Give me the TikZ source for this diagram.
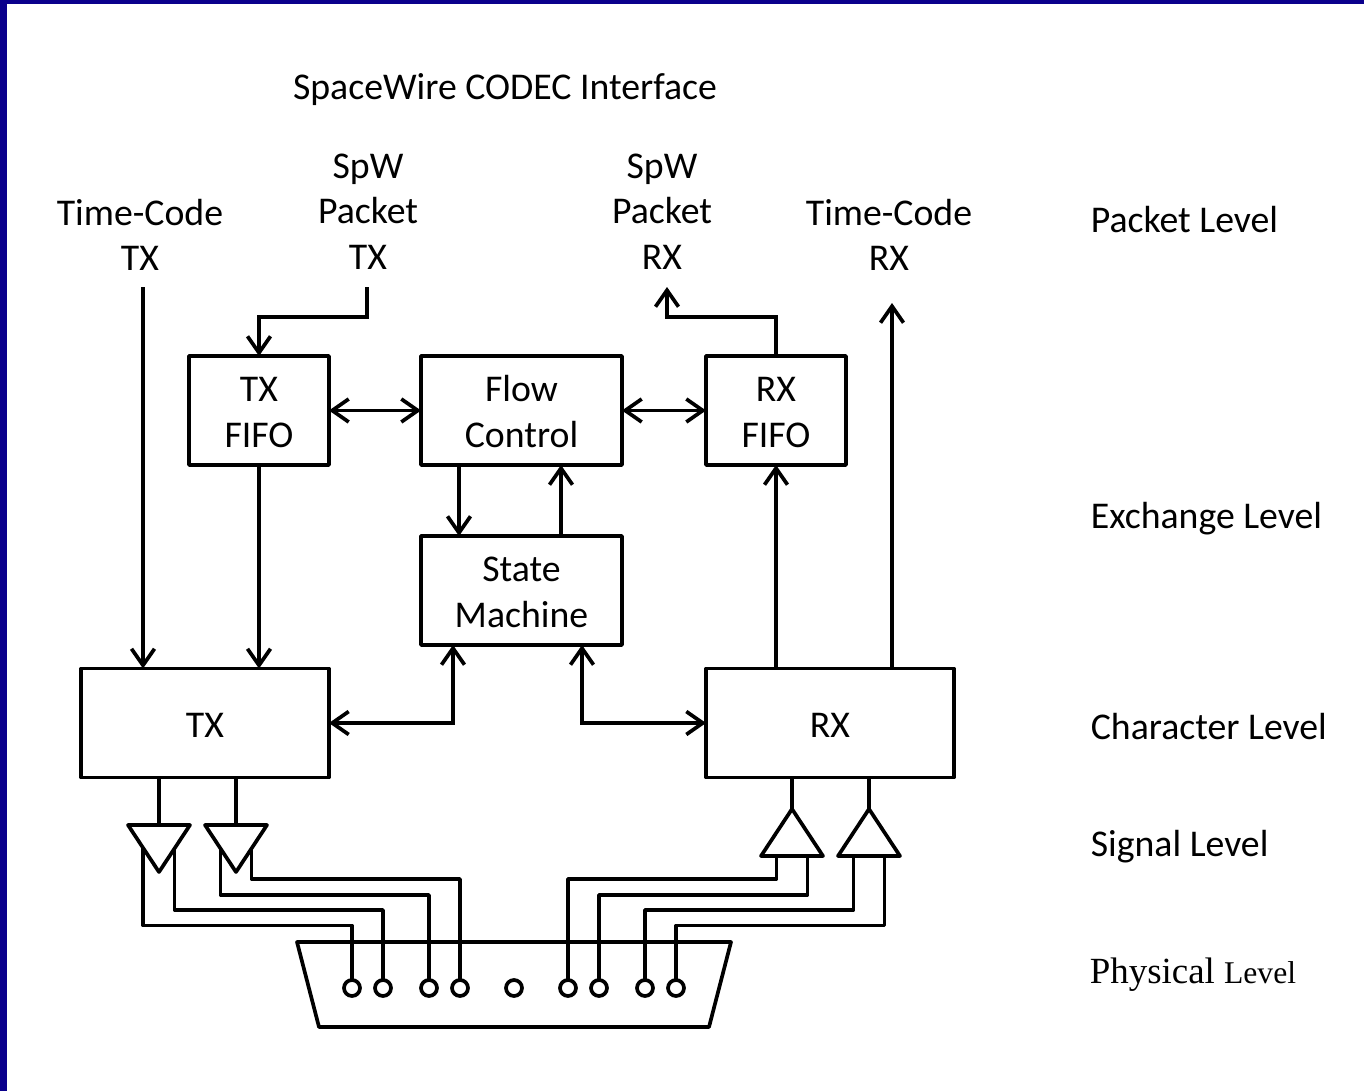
\documentclass[tikz,border=0pt]{standalone}
\usepackage{fontspec}
\setmainfont{Carlito}
\newfontfamily\timesfont{Liberation Serif}
\usetikzlibrary{arrows.meta, shapes.geometric}
\definecolor{frameblue}{RGB}{10,0,140}
\newcommand{\blocktext}[1]{\raisebox{-0.1cm}[\height][\depth]{\begin{tabular}{@{}c@{}}#1\end{tabular}}}
\tikzset{
    block/.style={draw, line width=2.1pt, inner sep=0pt, outer sep=0pt, align=center, line join=round, font=\fontsize{21.5}{26}\selectfont},
    lbl/.style={inner sep=0pt, align=center, font=\fontsize{21.5}{26}\selectfont},
    lvl/.style={lbl, anchor=west},
    pinhole/.style={draw, circle, fill=white, line width=2.1pt, minimum size=0.32cm, inner sep=0pt, outer sep=0pt},
    amp/.style={draw, isosceles triangle, isosceles triangle stretches, minimum height=0.94cm, minimum width=1.24cm, inner sep=0pt, outer sep=0pt, line width=2.1pt, line join=round, anchor=apex},
}
\begin{document}
\begin{tikzpicture}[>={Straight Barb[length=3.3mm, width=4.6mm, line width=2.1pt]}, x=0.02cm, y=-0.02cm, line width=2.1pt]
    \useasboundingbox (0,0) rectangle (1364,1091);
    \fill[frameblue] (0,0) rectangle (1364,4);
    \fill[frameblue] (0,0) rectangle (7,1091);

    % Labels around the top
    \node[lbl] (title) at (505,90) {SpaceWire CODEC Interface};
    \node[lbl] (tctxlbl) at (140,235) {Time-Code\\TX};
    \node[lbl] (spwtxlbl) at (368,211.5) {SpW\\Packet\\TX};
    \node[lbl] (spwrxlbl) at (662,211.5) {SpW\\Packet\\RX};
    \node[lbl] (tcrxlbl) at (889,235) {Time-Code\\RX};

    % Levels on the right
    \node[lvl] (packet) at (1089,220) {Packet Level};
    \node[lvl] (exchange) at (1089,519) {Exchange Level};
    \node[lvl] (character) at (1089,727) {Character Level};
    \node[lvl] (signal) at (1089,847) {Signal Level};
    \node[lvl] (physical) at (1088,975) {\timesfont\fontsize{21}{26}\selectfont Physical {\fontsize{18}{26}\selectfont Level}};

    % Blocks
    \node[block, minimum width=2.8cm, minimum height=2.18cm] (txfifo) at (259,410.5) {\blocktext{TX\\FIFO}};
    \node[block, minimum width=4.02cm, minimum height=2.18cm] (flow) at (521.5,410.5) {\blocktext{Flow\\Control}};
    \node[block, minimum width=2.8cm, minimum height=2.18cm] (rxfifo) at (776,410.5) {\blocktext{RX\\FIFO}};
    \node[block, minimum width=4.02cm, minimum height=2.18cm] (state) at (521.5,590.5) {\blocktext{State\\Machine}};
    \node[block, minimum width=4.96cm, minimum height=2.18cm] (tx) at (205,723) {\blocktext{TX}};
    \node[block, minimum width=4.96cm, minimum height=2.18cm] (rx) at (830,723) {\blocktext{RX}};

    % Free ends of the top connectors
    \coordinate (tctxpin) at (143,287);
    \coordinate (spwtxpin) at (367,287);
    \coordinate (spwrxpin) at (667,287);
    \coordinate (tcrxpin) at (892,303);
    \coordinate (downpin) at (459,500);
    \coordinate (uppin) at (561,500);
    \coordinate (txstate) at (453,700);
    \coordinate (rxstate) at (582,700);

    % Connectors between the blocks
    \draw[->] (tctxpin) -- (tctxpin |- tx.north);
    \draw[->] (spwtxpin) -- ++(0,30) -| (txfifo.north);
    \draw[->] (txfifo.south) -- (txfifo.south |- tx.north);
    \draw[<->] (txfifo.east) -- (flow.west);
    \draw[<->] (flow.east) -- (rxfifo.west);
    \draw[->] (downpin |- flow.south) -- (downpin |- state.north);
    \draw[->] (uppin |- state.north) -- (uppin |- flow.south);
    \draw[<->] (tx.east) -| (txstate |- state.south);
    \draw[<->] (rx.west) -| (rxstate |- state.south);
    \draw[->] (rxfifo.south |- rx.north) -- (rxfifo.south);
    \draw[->] (rxfifo.north) -- ++(0,-39) -| (spwrxpin);
    \draw[->] (tcrxpin |- rx.north) -- (tcrxpin);

    % Drivers and receivers
    \node[amp, shape border rotate=-90] (drva) at (159,872) {};
    \node[amp, shape border rotate=-90] (drvb) at (236,872) {};
    \node[amp, shape border rotate=90] (reca) at (792,809) {};
    \node[amp, shape border rotate=90] (recb) at (869,809) {};
    \draw (tx.south -| drva.apex) -- (drva.lower side);
    \draw (tx.south -| drvb.apex) -- (drvb.lower side);
    \draw (rx.south -| reca.apex) -- (reca.apex);
    \draw (rx.south -| recb.apex) -- (recb.apex);

    % Connector shell
    \draw[line join=round] (297,942) -- (731,942) -- (709,1027) -- (319,1027) -- cycle;

    % Pins
    \node[pinhole] (pa) at (352,988) {};
    \node[pinhole] (pb) at (383,988) {};
    \node[pinhole] (pc) at (429,988) {};
    \node[pinhole] (pd) at (460,988) {};
    \node[pinhole] (pe) at (514,988) {};
    \node[pinhole] (pf) at (568,988) {};
    \node[pinhole] (pg) at (599,988) {};
    \node[pinhole] (ph) at (645,988) {};
    \node[pinhole] (pi) at (676,988) {};

    % Ends of the wires on the triangles
    \coordinate (da) at (143,847);
    \coordinate (db) at (174.5,847);
    \coordinate (dc) at (220.5,847);
    \coordinate (dd) at (251.5,847);
    \coordinate (ra) at (776.5,856);
    \coordinate (rb) at (807.5,856);
    \coordinate (rc) at (853.5,856);
    \coordinate (rd) at (884.5,856);

    % Wires
    \draw[line join=round] (pa.north) -- ++(0,-54.5) -| (da);
    \draw[line join=round] (pb.north) -- ++(0,-70) -| (db);
    \draw[line join=round] (pc.north) -- ++(0,-85) -| (dc);
    \draw[line join=round] (pd.north) -- ++(0,-101) -| (dd);
    \draw[line join=round] (pf.north) -- ++(0,-101) -| (ra);
    \draw[line join=round] (pg.north) -- ++(0,-85) -| (rb);
    \draw[line join=round] (ph.north) -- ++(0,-70) -| (rc);
    \draw[line join=round] (pi.north) -- ++(0,-54.5) -| (rd);
\end{tikzpicture}
\end{document}
